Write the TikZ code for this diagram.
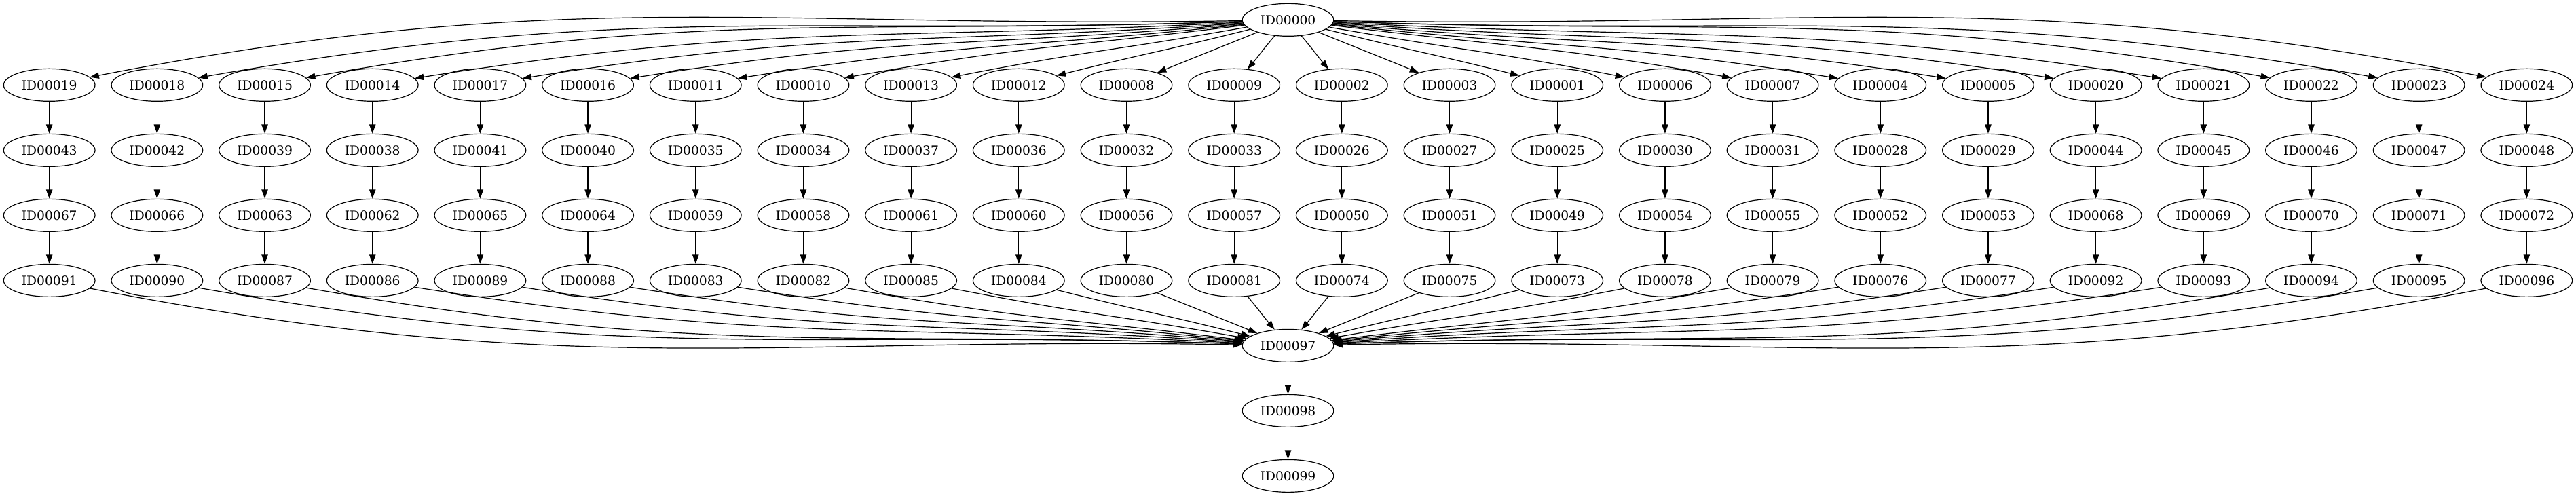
\documentclass[tikz,border=0pt]{standalone}
\usepackage{fontspec}
\setmainfont{DejaVu Serif}
\usetikzlibrary{arrows.meta,shapes.geometric}

\begin{document}
\begin{tikzpicture}[x=1pt,y=1pt,line width=0.9pt,
    idnode/.style={draw,ellipse,minimum width=101pt,minimum height=36pt,
      inner sep=0pt,font=\fontsize{14}{16}\selectfont},
    edge/.style={-{Triangle[length=10pt,width=7pt]}},]

    \useasboundingbox (0,0) rectangle (2846,-548);

    \node[idnode] (n00) at (1423,-22) {ID00000};
    \node[idnode] (n97) at (1423,-382) {ID00097};
    \node[idnode] (n98) at (1423,-454) {ID00098};
    \node[idnode] (n99) at (1423,-526) {ID00099};

    \draw[edge] (n97) -- (n98);
    \draw[edge] (n98) -- (n99);

    \foreach \a/\b/\c/\d [count=\i from 0] in {19/43/67/91, 18/42/66/90,
      15/39/63/87, 14/38/62/86, 17/41/65/89, 16/40/64/88, 11/35/59/83,
      10/34/58/82, 13/37/61/85, 12/36/60/84, 08/32/56/80, 09/33/57/81,
      02/26/50/74, 03/27/51/75, 01/25/49/73, 06/30/54/78, 07/31/55/79,
      04/28/52/76, 05/29/53/77, 20/44/68/92, 21/45/69/93, 22/46/70/94,
      23/47/71/95, 24/48/72/96}
    {
      \pgfmathsetmacro{\xx}{54.5+119*\i}
      \node[idnode] (n\a) at (\xx,-94) {ID000\a};
      \node[idnode] (n\b) at (\xx,-166) {ID000\b};
      \node[idnode] (n\c) at (\xx,-238) {ID000\c};
      \node[idnode] (n\d) at (\xx,-310) {ID000\d};

      \draw[edge] (n\a) -- (n\b);
      \draw[edge] (n\b) -- (n\c);
      \draw[edge] (n\c) -- (n\d);

      % fan out of ID00000 and fan into ID00097
      \pgfmathsetmacro{\dd}{abs(\i-11.5)}
      \pgfmathsetmacro{\aa}{atan(72/(119*\dd))}
      \pgfmathsetmacro{\bb}{max(0,\dd-2)*0.8}
      \pgfmathsetmacro{\ll}{0.39*119*\dd}
      \ifnum\i<12
        \pgfmathtruncatemacro{\outA}{round(180+\aa-0.2*\bb)}
        \pgfmathtruncatemacro{\inA}{round(\aa+\bb)}
        \pgfmathtruncatemacro{\outB}{round(-\aa-\bb)}
        \pgfmathtruncatemacro{\inB}{round(180-\aa+0.2*\bb)}
      \else
        \pgfmathtruncatemacro{\outA}{round(-\aa+0.2*\bb)}
        \pgfmathtruncatemacro{\inA}{round(180-\aa-\bb)}
        \pgfmathtruncatemacro{\outB}{round(180+\aa+\bb)}
        \pgfmathtruncatemacro{\inB}{round(\aa-0.2*\bb)}
      \fi
      \draw[edge] (n00.\outA) .. controls +(\outA:\ll) and +(\inA:\ll) .. (n\a.\inA);
      \draw[edge] (n\d.\outB) .. controls +(\outB:\ll) and +(\inB:\ll) .. (n97.\inB);
    }

  \end{tikzpicture}
\end{document}
